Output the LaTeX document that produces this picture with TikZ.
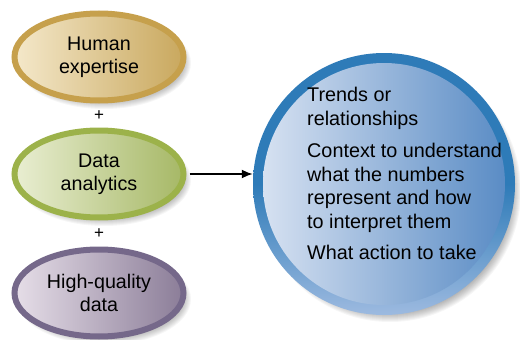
\documentclass[tikz,border=0pt]{standalone}
\usepackage{fontspec}
\setmainfont{Liberation Sans}
\usetikzlibrary{shapes.geometric,arrows.meta}
\definecolor{goldring}{HTML}{C6A04C}
\definecolor{goldL}{HTML}{F4E8CA}
\definecolor{goldR}{HTML}{C9A85E}
\definecolor{greenring}{HTML}{9CB24A}
\definecolor{greenL}{HTML}{E9EED2}
\definecolor{greenR}{HTML}{A6B866}
\definecolor{purpring}{HTML}{75688A}
\definecolor{purpL}{HTML}{E6DEE8}
\definecolor{purpR}{HTML}{8B7D98}
\definecolor{bluering}{HTML}{2E7BB8}
\definecolor{bluebot}{HTML}{9DBAE0}
\definecolor{blueL}{HTML}{D6E1F1}
\definecolor{blueR}{HTML}{5A8CC5}
\tikzset{
  ell/.style={ellipse, minimum width=169pt, minimum height=87pt, line width=6pt,
    inner sep=0pt, align=center, font=\fontsize{19.7}{23}\selectfont},
  plussign/.style={font=\fontsize{17}{17}\selectfont, inner sep=0pt},
  shad/.style={black, opacity=0.035}
}
\begin{document}
\begin{tikzpicture}[x=1pt,y=-1pt]
\useasboundingbox (0,0) rectangle (520,340);
% soft shadows
\foreach \c in {57,174,293}{
  \foreach \i in {0,...,8}{
    \fill[shad] (104,\c+6) ellipse ({79+\i} and {38+\i});
  }
}
\foreach \i in {0,...,9}{
  \fill[shad] (390,191) circle ({122+\i});
}
% ellipses
\node[ell, draw=goldring, left color=goldL, right color=goldR] (hum) at (99,57) {Human\\expertise};
\node[ell, draw=greenring, left color=greenL, right color=greenR] (dat) at (99,174) {Data\\analytics};
\node[ell, draw=purpring, left color=purpL, right color=purpR] (hq) at (99,293) {High-quality\\data};
\node[plussign] (p1) at (99,116) {+};
\node[plussign] (p2) at (99,234) {+};
% big circle
\node[circle, minimum size=262pt, inner sep=0pt, top color=bluering, bottom color=bluebot, middle color=bluering] (circ) at (384,184) {};
\node[circle, minimum size=242pt, inner sep=0pt, left color=blueL, right color=blueR] (circin) at (384,184) {};
% arrow
\draw[line width=1.8pt, -{Latex[length=11pt,width=9pt]}] (dat.east) ++(3,0) coordinate (astart) -- (astart -| circ.west);
% text
\node[anchor=north west, inner sep=0pt, align=left, font=\fontsize{19.8}{23.5}\selectfont] (txt) at (307,87)
 {Trends or\\relationships\\[9pt]Context to understand\\what the numbers\\represent and how\\to interpret them\\[8pt]What action to take};
\end{tikzpicture}
\end{document}
